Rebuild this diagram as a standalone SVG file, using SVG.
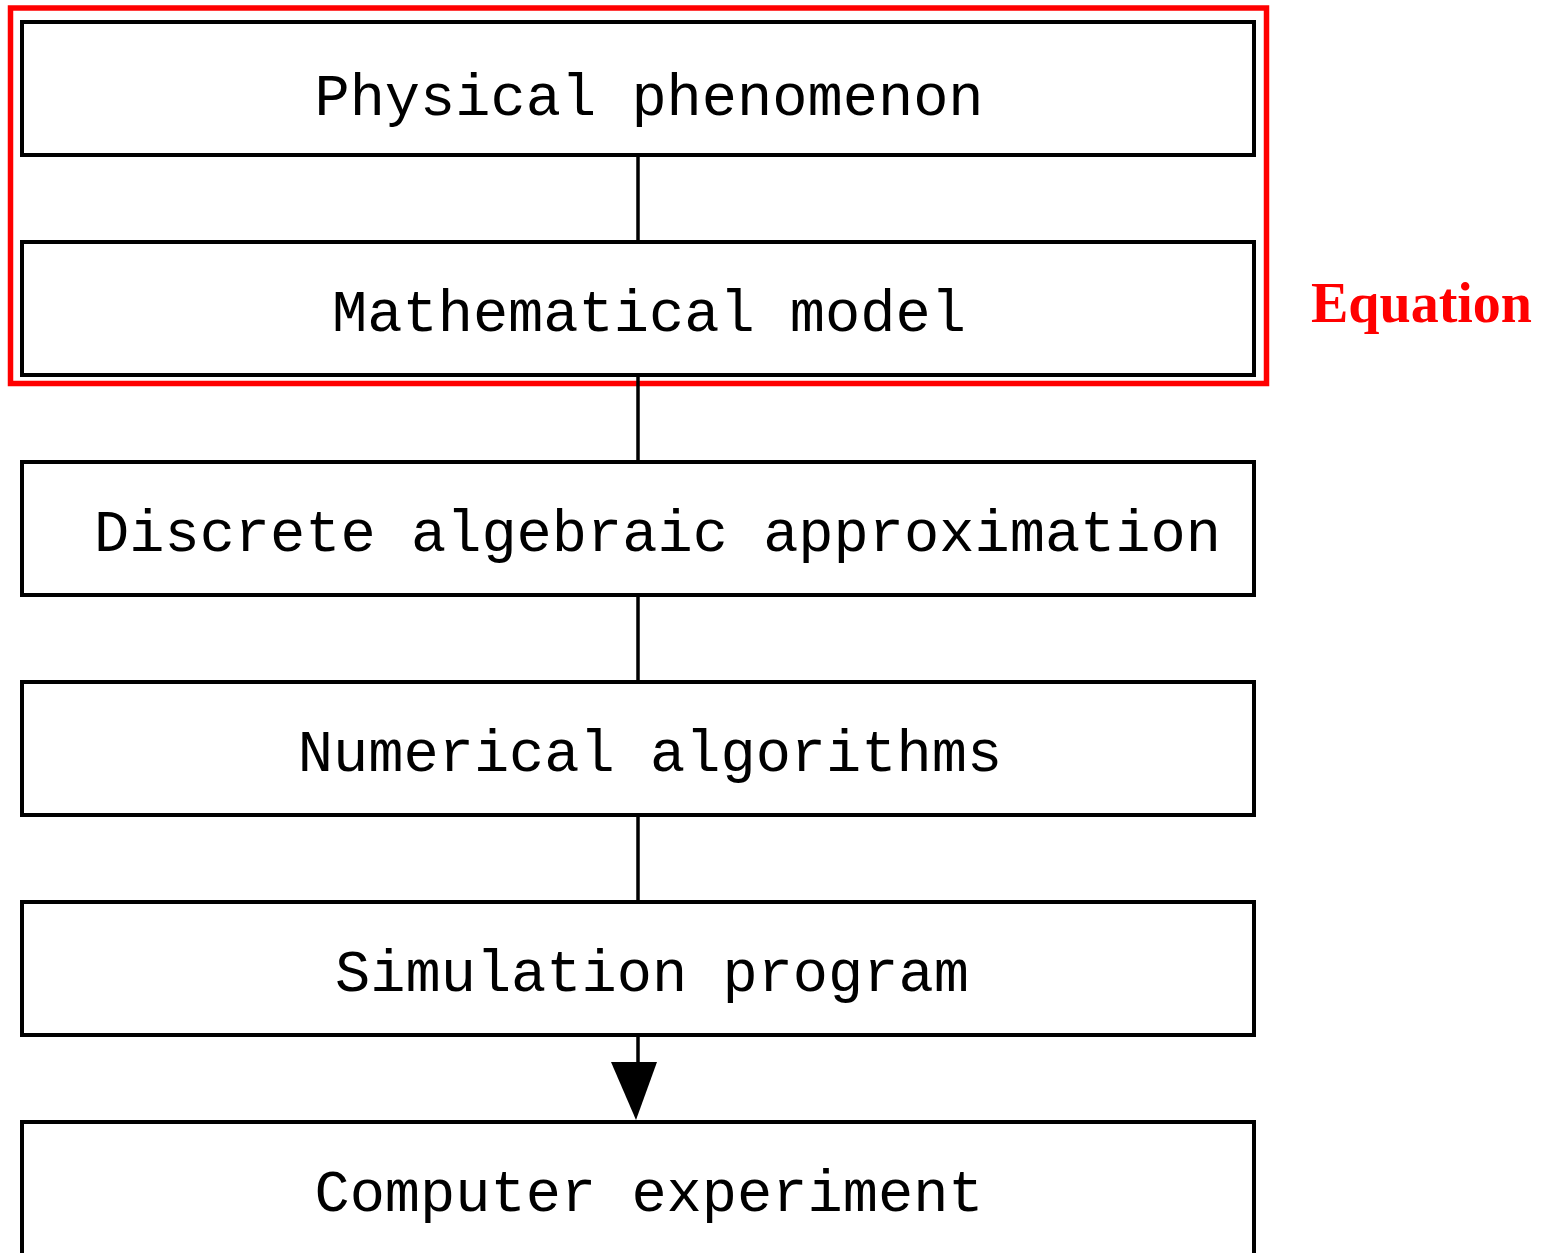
<svg xmlns="http://www.w3.org/2000/svg" width="1550" height="1253" viewBox="0 0 1550 1253">
<style>
.box{fill:#fff;stroke:#000;stroke-width:4}
.lbl{font-family:"Liberation Mono","Courier New",monospace;font-size:58.7px;fill:#000;text-anchor:middle}
.conn{stroke:#000;stroke-width:3.5;fill:none}
</style>
<rect x="0" y="0" width="1550" height="1253" fill="#fff"/>
<g id="equation-group">
<rect x="10.5" y="8" width="1256" height="375.5" fill="none" stroke="#f00" stroke-width="5.5"/>
<text x="1311" y="322" font-family="Liberation Serif,Times New Roman,serif" font-weight="bold" font-size="56" fill="#f00">Equation</text>
</g>
<g id="connectors">
<line class="conn" x1="638" y1="155" x2="638" y2="242"/>
<line class="conn" x1="638" y1="375" x2="638" y2="462"/>
<line class="conn" x1="638" y1="595" x2="638" y2="682"/>
<line class="conn" x1="638" y1="815" x2="638" y2="902"/>
<line class="conn" x1="638" y1="1035" x2="638" y2="1064"/>
<polygon points="611,1062 657,1062 636,1120" fill="#000"/>
</g>
<g id="n1"><rect class="box" x="22" y="22" width="1232" height="133"/><text class="lbl" x="649" y="115">Physical phenomenon</text></g>
<g id="n2"><rect class="box" x="22" y="242" width="1232" height="133"/><text class="lbl" x="649" y="331">Mathematical model</text></g>
<g id="n3"><rect class="box" x="22" y="462" width="1232" height="133"/><text class="lbl" x="657.5" y="551">Discrete algebraic approximation</text></g>
<g id="n4"><rect class="box" x="22" y="682" width="1232" height="133"/><text class="lbl" x="650" y="771">Numerical algorithms</text></g>
<g id="n5"><rect class="box" x="22" y="902" width="1232" height="133"/><text class="lbl" x="652" y="991">Simulation program</text></g>
<g id="n6"><rect class="box" x="22" y="1122" width="1232" height="133"/><text class="lbl" x="649" y="1211">Computer experiment</text></g>
</svg>
